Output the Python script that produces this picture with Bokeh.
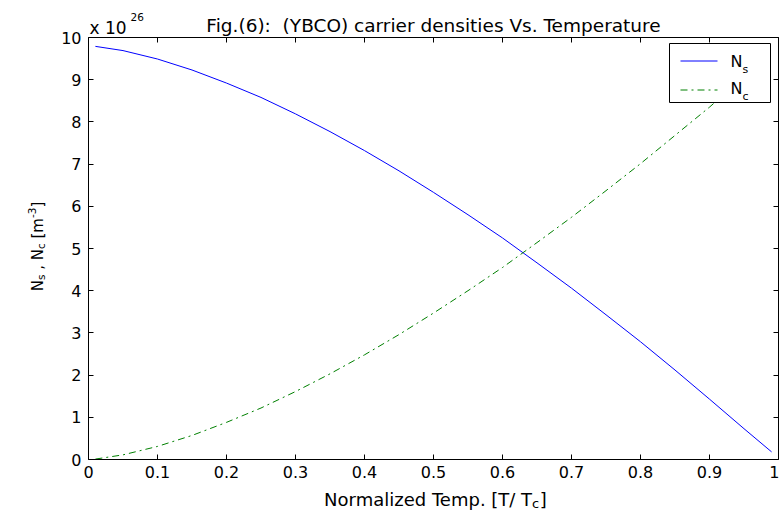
from bokeh.plotting import figure
from bokeh.models import LinearAxis, FixedTicker, Label, Range1d
from bokeh.embed import file_html
from bokeh.resources import INLINE

# Normalized temperature T/Tc
t_norm = [0.01, 0.05, 0.10, 0.15, 0.20, 0.25, 0.30, 0.35, 0.40, 0.45, 0.50,
          0.55, 0.60, 0.65, 0.70, 0.75, 0.80, 0.85, 0.90, 0.95, 0.99]
# Superconducting carrier density Ns (x 1e26 m^-3)
n_s = [9.79, 9.69, 9.49, 9.23, 8.92, 8.58, 8.19, 7.77, 7.32, 6.84, 6.33,
       5.80, 5.25, 4.66, 4.06, 3.43, 2.79, 2.12, 1.43, 0.73, 0.18]
# Normal carrier density Nc (x 1e26 m^-3)
n_c = [0.01, 0.11, 0.31, 0.57, 0.88, 1.22, 1.61, 2.03, 2.48, 2.96, 3.47,
       4.00, 4.55, 5.14, 5.74, 6.37, 7.01, 7.68, 8.35, 9.07, 9.65]

x_ticks = [0, 0.1, 0.2, 0.3, 0.4, 0.5, 0.6, 0.7, 0.8, 0.9, 1.0]
x_tick_labels = ["0", "0.1", "0.2", "0.3", "0.4", "0.5", "0.6", "0.7", "0.8", "0.9", "1"]
y_ticks = [0, 1, 2, 3, 4, 5, 6, 7, 8, 9, 10]
y_tick_labels = [str(v) for v in y_ticks]

X_MIN, X_MAX = 0.0, 1.0
Y_MIN, Y_MAX = 0.0, 10.0

FONT = "DejaVu Sans"
NBSP = "\u00a0"
W, H = 779, 512
# pixel box of the axes on the canvas
BOX_L, BOX_R, BOX_T, BOX_B = 88, 778, 37, 459
SX = (BOX_R - BOX_L) / (X_MAX - X_MIN)      # px per x unit
SY = (BOX_B - BOX_T) / (Y_MAX - Y_MIN)      # px per y unit


def dx(cx):
    return X_MIN + (cx - BOX_L) / SX


def dy(cy):
    return Y_MIN + (BOX_B - cy) / SY


# the frame spans the whole canvas so that titles and labels can sit around the box
p = figure(width=W, height=H,
           x_range=Range1d(dx(0), dx(W)), y_range=Range1d(dy(H), dy(0)),
           x_axis_type=None, y_axis_type=None,
           output_backend="svg", toolbar_location=None, min_border=0)
p.background_fill_color = "white"
p.border_fill_color = "white"
p.outline_line_color = None
p.grid.visible = False

xt = FixedTicker(ticks=x_ticks)
yt = FixedTicker(ticks=y_ticks)


def make_axis(ticker, labels, fixed, bounds, show_labels, standoff=0):
    ax = LinearAxis(ticker=ticker, fixed_location=fixed, bounds=bounds)
    ax.axis_line_color = "black"
    ax.major_tick_line_color = "black"
    ax.major_tick_in = 5
    ax.major_tick_out = 0
    ax.minor_tick_line_color = None
    ax.major_label_text_font = FONT
    ax.major_label_text_color = "black"
    if show_labels:
        ax.major_label_overrides = dict(zip(ticker.ticks, labels))
        ax.major_label_text_font_size = "16px"
        ax.major_label_standoff = standoff
    else:
        ax.major_label_overrides = {k: "" for k in ticker.ticks}
        ax.major_label_text_font_size = "0px"
        ax.major_label_standoff = 0
    return ax


p.add_layout(make_axis(xt, x_tick_labels, Y_MIN, (X_MIN, X_MAX), True, 6), "below")
p.add_layout(make_axis(yt, y_tick_labels, X_MIN, (Y_MIN, Y_MAX), True, 7), "left")
p.add_layout(make_axis(xt, x_tick_labels, Y_MAX, (X_MIN, X_MAX), False), "above")
p.add_layout(make_axis(yt, y_tick_labels, X_MAX, (Y_MIN, Y_MAX), False), "right")

NS_COLOR, NC_COLOR, NC_DASH = "#0000ff", "#008000", "7 4 2 4"

# the two density curves
p.line(t_norm, n_s, line_color=NS_COLOR, line_width=1)
p.line(t_norm, n_c, line_color=NC_COLOR, line_width=1, line_dash=NC_DASH)

# approximate DejaVu Sans advance widths (em) for laying out rich labels
ADV = {" ": .318, NBSP: .318, "N": .748, "o": .612, "r": .411, "m": .974, "a": .613,
       "l": .278, "i": .278, "z": .525, "e": .615, "d": .635, "T": .611, "p": .635,
       ".": .318, "[": .390, "/": .337, "]": .390, "s": .521, "c": .550, ",": .318,
       "-": .361, "3": .636, "x": .592, "1": .636, "0": .636, "2": .636, "6": .636}


def text_width(s, size):
    return sum(ADV.get(ch, .6) for ch in s) * size


def add_text(cx, cy, text, size, align="left", angle=0):
    """Place text at canvas pixel (cx, cy) on its alphabetic baseline."""
    p.add_layout(Label(x=dx(cx), y=dy(cy), text=text.replace(" ", NBSP), text_font=FONT,
                       text_font_size=f"{size}px", text_color="black",
                       text_align=align, text_baseline="alphabetic",
                       angle=angle, angle_units="deg"))


CENTER_X = (BOX_L + BOX_R) / 2

# title and exponent
add_text(CENTER_X, 25, "Fig.(6):  (YBCO) carrier densities Vs. Temperature", 18.5, align="center")
add_text(89, 27, "x 10", 17)
add_text(130, 16, "26", 10.5)

# x-axis label with subscript: main text ends where the subscript starts
xl_main, xl_sub, xl_tail = "Normalized Temp. [T/ T", "c", "]"
s_main, s_sub = 18, 13
total = (text_width(xl_main, s_main) + text_width(xl_sub, s_sub)
         + text_width(xl_tail, s_main))
anchor = CENTER_X - total / 2 + text_width(xl_main, s_main)
add_text(anchor, 499, xl_main, s_main, align="right")
add_text(anchor, 503, xl_sub, s_sub)
add_text(anchor + text_width(xl_sub, s_sub) + 0.5, 499, xl_tail, s_main)

# y-axis label (rotated) with sub/superscripts: (text, size, baseline shift)
yl_parts = [("N", 15, 0), ("s", 10.5, 3.5), (" , N", 15, 0), ("c", 10.5, 3.5),
            (" [m", 15, 0), ("-3", 10.5, -6), ("]", 15, 0)]
total = sum(text_width(s, z) for s, z, _ in yl_parts)
cy = 246 + total / 2
for s, z, shift in yl_parts:
    add_text(37 + shift, cy, s, z, angle=90)
    cy -= text_width(s, z)

# legend box with line samples (sample rows sit on pixel centres)
p.quad(left=[dx(669)], right=[dx(770)], top=[dy(43)], bottom=[dy(102)],
       fill_color="white", line_color="black", line_width=1)
p.segment(x0=[dx(680)], y0=[dy(60.5)], x1=[dx(717)], y1=[dy(60.5)],
          line_color=NS_COLOR, line_width=1)
p.segment(x0=[dx(680)], y0=[dy(89.5)], x1=[dx(717)], y1=[dy(89.5)],
          line_color=NC_COLOR, line_width=1, line_dash=NC_DASH)
add_text(730, 61, "N", 16)
add_text(730 + text_width("N", 16), 69, "s", 11)
add_text(730, 88, "N", 16)
add_text(730 + text_width("N", 16), 96, "c", 11)

open("out.html", "w").write(file_html(p, INLINE))
